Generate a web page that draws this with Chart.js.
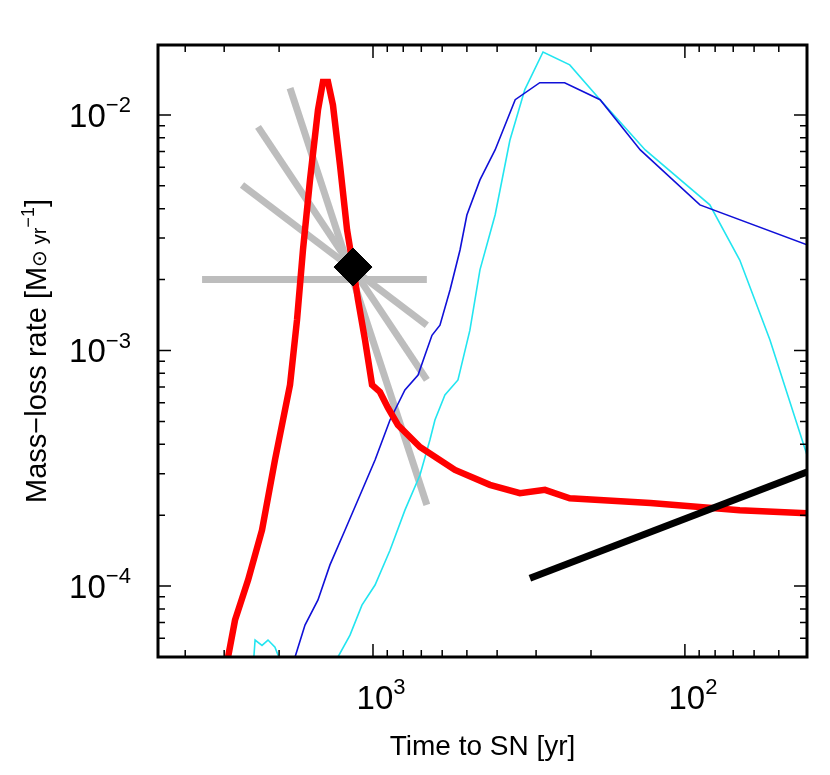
<!DOCTYPE html>
<html>
<head>
<meta charset="utf-8">
<script src="https://cdn.jsdelivr.net/npm/chart.js"></script>
<style>body{margin:0;background:#fff}#wrap{width:830px;height:775px}</style>
</head>
<body>
<div id="wrap"><canvas id="c"></canvas></div>
<script>
// time to SN [yr], mass-loss rate [Msun/yr]
const redT = [2915,2769,2515,2269,2062,1845,1752,1677,1592,1501,1447,1394,1344,1276,1211,1168,1117,1061,1007,950,895,832,707,546,422,338,281,234,129,66.7,40.6];
const redM = [5.0e-5,7.17e-5,1.06e-4,1.73e-4,3.43e-4,7.15e-4,1.35e-3,2.67e-3,5.3e-3,1.05e-2,1.38e-2,1.38e-2,1.1e-2,6.13e-3,3.25e-3,2.42e-3,1.64e-3,1.11e-3,7.15e-4,6.67e-4,5.7e-4,4.83e-4,3.89e-4,3.11e-4,2.69e-4,2.48e-4,2.56e-4,2.36e-4,2.25e-4,2.1e-4,2.04e-4];
const blueT = [1778,1652,1501,1374,1229,1101,985,882,790,717,681,647,610,566,526,500,454,406,350,292,243,187,139,89.5,40.6];
const blueM = [5e-5,6.83e-5,8.73e-5,1.23e-4,1.73e-4,2.43e-4,3.43e-4,5.07e-4,6.8e-4,7.87e-4,9.57e-4,1.16e-3,1.28e-3,1.81e-3,2.67e-3,3.76e-3,5.3e-3,7.1e-3,1.16e-2,1.37e-2,1.37e-2,1.16e-2,7.1e-3,4.15e-3,2.81e-3];
const cyanT = [2478,2388,2269,2171,2062,1957,1714,1295,1185,1085,985,882,790,707,657,633,588,534,489,454,406,364,326,285,234,187,134,83.2,66.7,53.4,40.6];
const cyanM = [3e-5,5.9e-5,5.6e-5,5.9e-5,5.5e-5,4.6e-5,3e-5,5e-5,6.19e-5,8.3e-5,1.01e-4,1.42e-4,2.1e-4,2.96e-4,4.17e-4,5.07e-4,6.47e-4,7.5e-4,1.22e-3,2.2e-3,3.76e-3,7.8e-3,1.28e-2,1.85e-2,1.63e-2,1.16e-2,7.1e-3,4.15e-3,2.42e-3,1.11e-3,3.6e-4];
const blackT = [314,40.6];
const blackM = [1.08e-4,3.05e-4];
const grayLines = [
  [[3532,2.0e-3],[672,2.0e-3]],
  [[2630,5.04e-3],[672,1.28e-3]],
  [[2337,8.89e-3],[672,7.5e-4]],
  [[1845,1.30e-2],[672,2.21e-4]]
];
const diamond = [[1159,2.26e-3]];
const xMajor = [1000,100];
const yMajor = [1e-2,1e-3,1e-4];

const pts = (t,m) => t.map((v,i)=>({x:v,y:m[i]}));
const datasets = [];
// first dataset is drawn on top
datasets.push({data:diamond.map(p=>({x:p[0],y:p[1]})),pointStyle:'rectRot',pointRadius:19,backgroundColor:'#000',borderColor:'#000',showLine:false,clip:false});
datasets.push({data:pts(blackT,blackM),borderColor:'#000',borderWidth:7,pointRadius:0,borderCapStyle:'butt'});
datasets.push({data:pts(redT,redM),borderColor:'#ff0000',borderWidth:6.5,pointRadius:0});
datasets.push({data:pts(blueT,blueM),borderColor:'#1010d8',borderWidth:1.6,pointRadius:0});
datasets.push({data:pts(cyanT,cyanM),borderColor:'#22e5f0',borderWidth:1.6,pointRadius:0});
grayLines.forEach(l=>datasets.push({data:l.map(p=>({x:p[0],y:p[1]})),borderColor:'#bdbdbd',borderWidth:7,pointRadius:0,borderCapStyle:'butt'}));

function sup(ctx,base,exp,x,y,size){
  ctx.font=size+'px "Liberation Sans", Arial';
  const bw=ctx.measureText(base).width;
  ctx.font=Math.round(size*0.68)+'px "Liberation Sans", Arial';
  const ew=ctx.measureText(exp).width;
  const x0=x-(bw+ew)/2;
  ctx.textAlign='left';
  ctx.font=size+'px "Liberation Sans", Arial';
  ctx.fillText(base,x0,y);
  ctx.font=Math.round(size*0.68)+'px "Liberation Sans", Arial';
  ctx.fillText(exp,x0+bw,y-size*0.45);
}

const frame = {
  id:'frame',
  afterDraw(chart){
    const {ctx,chartArea:a,scales:{x,y}}=chart;
    ctx.save();
    ctx.strokeStyle='#000';ctx.fillStyle='#000';
    ctx.lineWidth=1.5;
    ctx.beginPath();
    for(let d=10;d<=1000;d*=10)for(let k=1;k<10;k++){
      const v=d*k; if(v<x.min||v>x.max)continue;
      const px=x.getPixelForValue(v),L=(k===1)?13:7;
      ctx.moveTo(px,a.bottom);ctx.lineTo(px,a.bottom-L);
      ctx.moveTo(px,a.top);ctx.lineTo(px,a.top+L);
    }
    for(let d=1e-5;d<=1e-2;d*=10)for(let k=1;k<10;k++){
      const v=d*k; if(v<y.min||v>y.max)continue;
      const py=y.getPixelForValue(v),L=(k===1)?13:7;
      ctx.moveTo(a.left,py);ctx.lineTo(a.left+L,py);
      ctx.moveTo(a.right,py);ctx.lineTo(a.right-L,py);
    }
    ctx.stroke();
    ctx.lineWidth=3;
    ctx.strokeRect(a.left,a.top,a.right-a.left,a.bottom-a.top);
    ctx.textBaseline='alphabetic';
    xMajor.forEach(v=>sup(ctx,'10',String(Math.round(Math.log10(v))),x.getPixelForValue(v)+8,a.bottom+52,33));
    yMajor.forEach(v=>{
      const py=y.getPixelForValue(v);
      sup(ctx,'10','\u2212'+String(-Math.round(Math.log10(v))),a.left-58,py+12,33);
    });
    ctx.font='28px "Liberation Sans", Arial';ctx.textAlign='center';
    ctx.fillText('Time to SN [yr]',(a.left+a.right)/2,755);
    ctx.translate(46,(a.top+a.bottom)/2);ctx.rotate(-Math.PI/2);
    const parts=[['Mass\u2212loss rate [M',29,0],['\u2299 yr',20,0],['\u22121',18,-12],[']',29,0]];
    let w=0;parts.forEach(p=>{ctx.font=p[1]+'px "Liberation Sans", Arial';w+=ctx.measureText(p[0]).width;});
    let cx=-w/2;ctx.textAlign='left';
    parts.forEach(p=>{ctx.font=p[1]+'px "Liberation Sans", Arial';ctx.fillText(p[0],cx,p[2]);cx+=ctx.measureText(p[0]).width;});
    ctx.restore();
  }
};

new Chart(document.getElementById('c'),{
  type:'line',
  data:{datasets},
  options:{
    responsive:true,maintainAspectRatio:false,animation:false,
    layout:{padding:{top:45,right:23,left:0,bottom:0}},
    plugins:{legend:{display:false},tooltip:{enabled:false}},
    scales:{
      x:{type:'logarithmic',reverse:true,min:40.6,max:4890,grid:{display:false},border:{display:false},ticks:{display:false},
        afterFit(s){s.height=118;}},
      y:{type:'logarithmic',min:5e-5,max:1.98e-2,grid:{display:false},border:{display:false},ticks:{display:false},
        afterFit(s){s.width=158;}}
    }
  },
  plugins:[frame]
});
</script>
</body>
</html>
